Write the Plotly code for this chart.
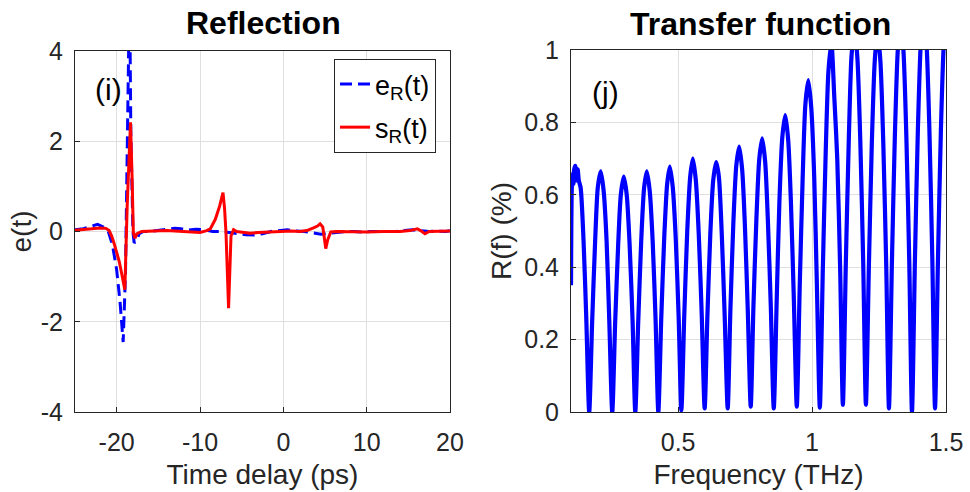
import plotly.graph_objects as go

# ---------------- Left panel: reflection in time domain ----------------
t_ref = [-25, -24, -23, -22.3, -21.6, -21.0, -20.5, -20.0, -19.6, -19.22,
         -18.94, -18.82, -18.66, -18.54, -18.45, -18.3, -18.05, -17.9, -17.6, -17.3,
         -16.8, -16.0, -15.0, -14.0, -13.0, -12.3, -11.5, -10.5, -9.5, -8.5,
         -7.5, -6.5, -5.5, -4.5, -3.5, -2.5, -1.5, -0.5, 0.5, 1.5,
         2.5, 3.5, 4.5, 5.5, 6.5, 7.5, 8.5, 9.5, 10.5, 11.5,
         12.5, 13.5, 14.5, 15.5, 16.5, 17.5, 18.5, 19.5, 20]
e_ref = [0.04, 0.06, 0.12, 0.16, 0.10, 0.0, -0.30, -0.85, -1.55, -2.45,
         -0.92, 0.56, 2.04, 3.97, 5.5, 2.2, 0.0, -0.25, -0.2, -0.05,
         0.0, 0.0, 0.02, 0.05, 0.07, 0.06, 0.03, 0.05, 0.04, 0.0,
         0.0, -0.02, -0.05, -0.07, -0.08, -0.05, 0.0, 0.02, 0.04, 0.01,
         0.0, -0.03, -0.06, -0.04, -0.02, 0.0, 0.0, -0.01, 0.0, 0.0,
         -0.01, 0.0, 0.02, 0.04, 0.02, 0.0, 0.01, 0.0, 0.02]

t_sam = [-25, -24, -23, -22, -21.3, -20.9, -20.6, -20.3, -20.0, -19.7,
         -19.4, -19.2, -19.02, -18.74, -18.34, -18.15, -18.0, -17.8, -17.6, -17.0,
         -16.0, -15.0, -14.0, -13.0, -12.0, -11.0, -10.0, -9.2, -8.76, -8.16,
         -7.65, -7.24, -7.05, -6.88, -6.57, -6.28, -5.97, -5.6, -5.0, -4.0,
         -3.0, -2.0, -1.0, 0.0, 1.0, 2.0, 2.82, 3.61, 4.1, 4.41,
         4.73, 4.89, 5.09, 5.33, 5.69, 6.4, 8.0, 10.0, 12.0, 14.0,
         15.2, 16.07, 16.47, 16.99, 17.5, 19.0, 20.0]
s_sam = [0.03, 0.04, 0.06, 0.08, 0.07, 0.02, -0.10, -0.27, -0.45, -0.66,
         -0.93, -1.15, -1.29, 0.56, 2.42, 1.2, -0.03, -0.15, -0.05, 0.0,
         0.01, 0.02, 0.02, 0.01, 0.0, 0.0, -0.02, 0.02, 0.06, 0.27,
         0.56, 0.86, 0.5, -0.03, -1.70, -0.10, 0.04, 0.0, -0.02, -0.04,
         -0.02, -0.01, 0.0, 0.0, 0.01, 0.0, 0.02, 0.08, 0.12, 0.17,
         0.10, -0.10, -0.38, -0.18, -0.01, 0.0, -0.01, -0.01, 0.0, 0.0,
         0.02, 0.06, 0.02, -0.05, 0.0, 0.0, 0.01]

# ---------------- Right panel: transfer function ----------------
freq = [0.100, 0.103, 0.106, 0.109, 0.112, 0.116, 0.120, 0.125, 0.129, 0.136, 0.147, 0.157, 0.168,
        0.179, 0.190, 0.200, 0.211, 0.222, 0.233, 0.243, 0.254,
        0.265, 0.276, 0.286, 0.297, 0.308, 0.319, 0.330, 0.340,
        0.351, 0.362, 0.373, 0.383, 0.394, 0.405, 0.416, 0.426,
        0.437, 0.448, 0.459, 0.469, 0.480, 0.491, 0.502, 0.512,
        0.523, 0.534, 0.545, 0.555, 0.566, 0.577, 0.588, 0.599,
        0.609, 0.620, 0.631, 0.642, 0.652, 0.663, 0.674, 0.685,
        0.695, 0.706, 0.717, 0.728, 0.739, 0.749, 0.760, 0.771,
        0.781, 0.792, 0.803, 0.814, 0.825, 0.835, 0.846, 0.857,
        0.868, 0.878, 0.889, 0.900, 0.911, 0.921, 0.932, 0.943,
        0.954, 0.965, 0.975, 0.986, 0.997, 1.008, 1.018, 1.029,
        1.040, 1.051, 1.061, 1.072, 1.083, 1.094, 1.105, 1.115,
        1.126, 1.137, 1.147, 1.158, 1.169, 1.180, 1.191, 1.201,
        1.212, 1.223, 1.234, 1.244, 1.255, 1.266, 1.277, 1.287,
        1.298, 1.309, 1.320, 1.330, 1.341, 1.352, 1.363, 1.373,
        1.384, 1.395, 1.406, 1.416, 1.427, 1.438, 1.449, 1.459,
        1.470, 1.481, 1.492, 1.502]
refl = [0.35, 0.62, 0.66, 0.63, 0.67, 0.68, 0.64, 0.67, 0.64, 0.62, 0.47, 0.26, 0.00,
        0.25, 0.47, 0.62, 0.665, 0.61, 0.47, 0.25, 0.00,
        0.25, 0.46, 0.60, 0.65, 0.60, 0.46, 0.25, 0.00,
        0.25, 0.47, 0.62, 0.665, 0.61, 0.47, 0.25, 0.00,
        0.26, 0.48, 0.63, 0.678, 0.62, 0.48, 0.26, 0.005,
        0.27, 0.50, 0.65, 0.70, 0.64, 0.49, 0.27, 0.01,
        0.26, 0.49, 0.64, 0.69, 0.65, 0.49, 0.26, 0.01,
        0.28, 0.52, 0.68, 0.733, 0.67, 0.52, 0.28, 0.015,
        0.29, 0.53, 0.70, 0.756, 0.69, 0.53, 0.29, 0.01,
        0.31, 0.58, 0.76, 0.82, 0.75, 0.58, 0.31, 0.015,
        0.35, 0.65, 0.85, 0.917, 0.84, 0.65, 0.35, 0.012,
        0.39, 0.72, 0.94, 1.02, 0.87, 0.70, 0.39, 0.02,
        0.41, 0.75, 0.98, 1.06, 0.98, 0.75, 0.41, 0.02,
        0.40, 0.74, 0.97, 1.05, 0.97, 0.74, 0.40, 0.01,
        0.41, 0.76, 1.00, 1.08, 1.00, 0.76, 0.41, 0.00,
        0.42, 0.78, 1.02, 1.10, 1.02, 0.78, 0.42, 0.01,
        0.42, 0.78, 1.02, 1.10]

# ---------------- Ticks ----------------
left_xticks = [-20, -10, 0, 10, 20]
left_xtext = ["-20", "-10", "0", "10", "20"]
left_yticks = [-4, -2, 0, 2, 4]
left_ytext = ["-4", "-2", "0", "2", "4"]
right_xticks = [0.5, 1, 1.5]
right_xtext = ["0.5", "1", "1.5"]
right_yticks = [0, 0.2, 0.4, 0.6, 0.8, 1]
right_ytext = ["0", "0.2", "0.4", "0.6", "0.8", "1"]

W, H = 970, 492
FONT = "Liberation Sans, Arial, Helvetica, sans-serif"
AX = "#262626"
GRID = "#dfdfdf"

fig = go.Figure()
fig.add_trace(go.Scatter(x=t_ref, y=e_ref, mode="lines", name="e<sub>R</sub>(t)",
                         legendgroup="a",
                         line=dict(color="#0000ff", width=3, dash="12px,6px"),
                         xaxis="x", yaxis="y"))
fig.add_trace(go.Scatter(x=t_sam, y=s_sam, mode="lines", name="s<sub>R</sub>(t)",
                         legendgroup="b",
                         line=dict(color="#ff0000", width=3),
                         xaxis="x", yaxis="y"))
fig.add_trace(go.Scatter(x=freq, y=refl, mode="lines", showlegend=False,
                         line=dict(color="#0000ff", width=4.2, shape="spline", smoothing=0.7),
                         xaxis="x2", yaxis="y2"))


def px_x(p):
    return p / W


def px_y(p):
    return 1 - p / H


title_font = dict(family=FONT, size=28, color=AX)
axis_common = dict(showline=True, mirror=True, linecolor=AX, linewidth=1,
                   ticks="inside", ticklen=5, tickcolor=AX, tickwidth=1,
                   showgrid=True, gridcolor=GRID, gridwidth=1, zeroline=False,
                   automargin=False, tickmode="array",
                   tickfont=dict(family=FONT, size=25, color=AX))

fig.update_layout(
    template="none",
    width=W, height=H, autosize=False,
    margin=dict(l=0, r=0, t=0, b=0, pad=0),
    paper_bgcolor="white", plot_bgcolor="white",
    font=dict(family=FONT, color=AX),
    xaxis=dict(domain=[px_x(75), px_x(450)], range=[-25, 20],
               tickvals=left_xticks, ticktext=left_xtext,
               anchor="y", ticklabelstandoff=8,
               title=dict(text="Time delay (ps)", font=title_font, standoff=9),
               **axis_common),
    yaxis=dict(domain=[px_y(412), px_y(51)], range=[-4, 4],
               tickvals=left_yticks, ticktext=left_ytext,
               anchor="x", ticklabelstandoff=6,
               title=dict(text="e(t)", font=title_font, standoff=0),
               **axis_common),
    xaxis2=dict(domain=[px_x(571), px_x(946)], range=[0.1, 1.5],
                tickvals=right_xticks, ticktext=right_xtext,
                anchor="y2", ticklabelstandoff=8,
                title=dict(text="Frequency (THz)", font=title_font, standoff=9),
                **axis_common),
    yaxis2=dict(domain=[px_y(412), px_y(50)], range=[0, 1],
                tickvals=right_yticks, ticktext=right_ytext,
                anchor="x2", ticklabelstandoff=6,
                title=dict(text="R(f) (%)", font=title_font, standoff=4),
                **axis_common),
    legend=dict(x=px_x(334), y=px_y(59), xanchor="left", yanchor="top",
                bgcolor="white", bordercolor=AX, borderwidth=1,
                font=dict(family=FONT, size=27, color="black"),
                tracegroupgap=5),
    showlegend=True,
)

annotations = [
    dict(text="<b>Reflection</b>", x=px_x(263), y=px_y(23), size=32, color="black"),
    dict(text="<b>Transfer function</b>", x=px_x(760), y=px_y(24), size=32, color="black"),
    dict(text="(i)", x=px_x(108), y=px_y(90), size=30, color="black"),
    dict(text="(j)", x=px_x(605), y=px_y(93), size=30, color="black"),
]
for a in annotations:
    fig.add_annotation(text=a["text"], x=a["x"], y=a["y"], xref="paper", yref="paper",
                       xanchor="center", yanchor="middle", showarrow=False,
                       font=dict(family=FONT, size=a["size"], color=a["color"]))

fig.write_html("out.html", config={"displayModeBar": False},
               post_script="document.body.style.margin='0';")
